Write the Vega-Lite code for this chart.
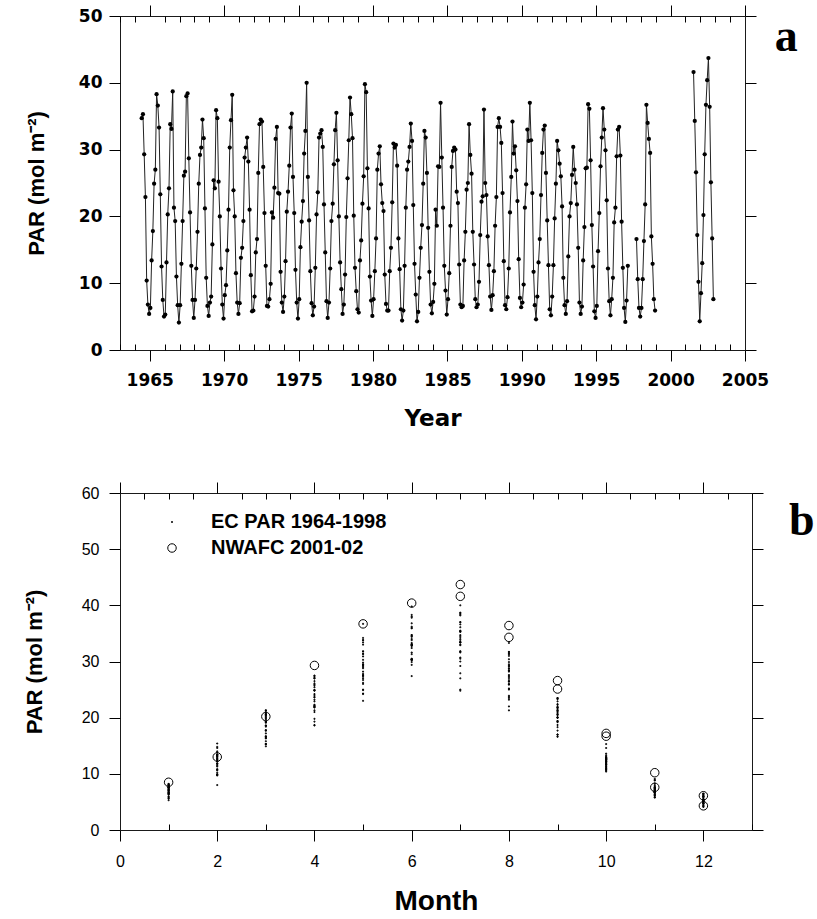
{
  "$schema": "https://vega.github.io/schema/vega-lite/v6.json",
  "background": "white",
  "padding": {"left": 22, "top": 4, "right": 0, "bottom": 0},
  "spacing": 50,
  "resolve": {"legend": {"shape": "independent", "size": "independent"}},
  "config": {
    "view": {"stroke": "#1a1a1a", "strokeWidth": 1},
    "axis": {"domain": false, "grid": false, "tickColor": "black", "tickWidth": 1, "labelColor": "black", "titleColor": "black", "labelOverlap": false, "labelFlush": false}
  },
  "datasets": {
    "par": [
      {"t":1964.458,"m":6,"v":34.7,"s":"EC","g":1},{"t":1964.542,"m":7,"v":35.3,"s":"EC","g":1},{"t":1964.625,"m":8,"v":29.3,"s":"EC","g":1},{"t":1964.708,"m":9,"v":22.9,"s":"EC","g":1},{"t":1964.792,"m":10,"v":10.4,"s":"EC","g":1},{"t":1964.875,"m":11,"v":6.8,"s":"EC","g":1},{"t":1964.958,"m":12,"v":5.4,"s":"EC","g":1},
      {"t":1965.042,"m":1,"v":6.3,"s":"EC","g":1},{"t":1965.125,"m":2,"v":13.4,"s":"EC","g":1},{"t":1965.208,"m":3,"v":17.8,"s":"EC","g":1},{"t":1965.292,"m":4,"v":24.9,"s":"EC","g":1},{"t":1965.375,"m":5,"v":27.0,"s":"EC","g":1},{"t":1965.458,"m":6,"v":38.3,"s":"EC","g":1},{"t":1965.542,"m":7,"v":36.6,"s":"EC","g":1},{"t":1965.625,"m":8,"v":33.3,"s":"EC","g":1},{"t":1965.708,"m":9,"v":23.3,"s":"EC","g":1},{"t":1965.792,"m":10,"v":12.5,"s":"EC","g":1},{"t":1965.875,"m":11,"v":7.5,"s":"EC","g":1},{"t":1965.958,"m":12,"v":5.0,"s":"EC","g":1},
      {"t":1966.042,"m":1,"v":5.3,"s":"EC","g":1},{"t":1966.125,"m":2,"v":13.1,"s":"EC","g":1},{"t":1966.208,"m":3,"v":20.3,"s":"EC","g":1},{"t":1966.292,"m":4,"v":24.2,"s":"EC","g":1},{"t":1966.375,"m":5,"v":33.8,"s":"EC","g":1},{"t":1966.458,"m":6,"v":33.1,"s":"EC","g":1},{"t":1966.542,"m":7,"v":38.7,"s":"EC","g":1},{"t":1966.625,"m":8,"v":21.3,"s":"EC","g":1},{"t":1966.708,"m":9,"v":19.3,"s":"EC","g":1},{"t":1966.792,"m":10,"v":11.0,"s":"EC","g":1},{"t":1966.875,"m":11,"v":6.7,"s":"EC","g":1},{"t":1966.958,"m":12,"v":4.1,"s":"EC","g":1},
      {"t":1967.042,"m":1,"v":6.7,"s":"EC","g":1},{"t":1967.125,"m":2,"v":12.9,"s":"EC","g":1},{"t":1967.208,"m":3,"v":19.3,"s":"EC","g":1},{"t":1967.292,"m":4,"v":26.1,"s":"EC","g":1},{"t":1967.375,"m":5,"v":26.7,"s":"EC","g":1},{"t":1967.458,"m":6,"v":38.0,"s":"EC","g":1},{"t":1967.542,"m":7,"v":38.4,"s":"EC","g":1},{"t":1967.625,"m":8,"v":28.7,"s":"EC","g":1},{"t":1967.708,"m":9,"v":20.6,"s":"EC","g":1},{"t":1967.792,"m":10,"v":12.6,"s":"EC","g":1},{"t":1967.875,"m":11,"v":7.5,"s":"EC","g":1},{"t":1967.958,"m":12,"v":4.8,"s":"EC","g":1},
      {"t":1968.042,"m":1,"v":7.5,"s":"EC","g":1},{"t":1968.125,"m":2,"v":12.2,"s":"EC","g":1},{"t":1968.208,"m":3,"v":17.7,"s":"EC","g":1},{"t":1968.292,"m":4,"v":24.9,"s":"EC","g":1},{"t":1968.375,"m":5,"v":29.2,"s":"EC","g":1},{"t":1968.458,"m":6,"v":30.3,"s":"EC","g":1},{"t":1968.542,"m":7,"v":34.5,"s":"EC","g":1},{"t":1968.625,"m":8,"v":31.7,"s":"EC","g":1},{"t":1968.708,"m":9,"v":21.2,"s":"EC","g":1},{"t":1968.792,"m":10,"v":10.8,"s":"EC","g":1},{"t":1968.875,"m":11,"v":6.6,"s":"EC","g":1},{"t":1968.958,"m":12,"v":5.1,"s":"EC","g":1},
      {"t":1969.042,"m":1,"v":7.1,"s":"EC","g":1},{"t":1969.125,"m":2,"v":8.0,"s":"EC","g":1},{"t":1969.208,"m":3,"v":15.8,"s":"EC","g":1},{"t":1969.292,"m":4,"v":25.4,"s":"EC","g":1},{"t":1969.375,"m":5,"v":24.2,"s":"EC","g":1},{"t":1969.458,"m":6,"v":35.9,"s":"EC","g":1},{"t":1969.542,"m":7,"v":34.7,"s":"EC","g":1},{"t":1969.625,"m":8,"v":25.2,"s":"EC","g":1},{"t":1969.708,"m":9,"v":20.0,"s":"EC","g":1},{"t":1969.792,"m":10,"v":12.2,"s":"EC","g":1},{"t":1969.875,"m":11,"v":6.8,"s":"EC","g":1},{"t":1969.958,"m":12,"v":4.7,"s":"EC","g":1},
      {"t":1970.042,"m":1,"v":8.2,"s":"EC","g":1},{"t":1970.125,"m":2,"v":9.7,"s":"EC","g":1},{"t":1970.208,"m":3,"v":14.9,"s":"EC","g":1},{"t":1970.292,"m":4,"v":21.0,"s":"EC","g":1},{"t":1970.375,"m":5,"v":30.3,"s":"EC","g":1},{"t":1970.458,"m":6,"v":34.4,"s":"EC","g":1},{"t":1970.542,"m":7,"v":38.2,"s":"EC","g":1},{"t":1970.625,"m":8,"v":23.9,"s":"EC","g":1},{"t":1970.708,"m":9,"v":20.0,"s":"EC","g":1},{"t":1970.792,"m":10,"v":11.5,"s":"EC","g":1},{"t":1970.875,"m":11,"v":7.1,"s":"EC","g":1},{"t":1970.958,"m":12,"v":5.4,"s":"EC","g":1},
      {"t":1971.042,"m":1,"v":7.0,"s":"EC","g":1},{"t":1971.125,"m":2,"v":13.8,"s":"EC","g":1},{"t":1971.208,"m":3,"v":15.3,"s":"EC","g":1},{"t":1971.292,"m":4,"v":19.3,"s":"EC","g":1},{"t":1971.375,"m":5,"v":28.8,"s":"EC","g":1},{"t":1971.458,"m":6,"v":30.3,"s":"EC","g":1},{"t":1971.542,"m":7,"v":31.8,"s":"EC","g":1},{"t":1971.625,"m":8,"v":28.2,"s":"EC","g":1},{"t":1971.708,"m":9,"v":21.0,"s":"EC","g":1},{"t":1971.792,"m":10,"v":11.2,"s":"EC","g":1},{"t":1971.875,"m":11,"v":5.8,"s":"EC","g":1},{"t":1971.958,"m":12,"v":5.9,"s":"EC","g":1},
      {"t":1972.042,"m":1,"v":8.0,"s":"EC","g":1},{"t":1972.125,"m":2,"v":14.6,"s":"EC","g":1},{"t":1972.208,"m":3,"v":16.6,"s":"EC","g":1},{"t":1972.292,"m":4,"v":26.5,"s":"EC","g":1},{"t":1972.375,"m":5,"v":33.8,"s":"EC","g":1},{"t":1972.458,"m":6,"v":34.5,"s":"EC","g":1},{"t":1972.542,"m":7,"v":34.2,"s":"EC","g":1},{"t":1972.625,"m":8,"v":27.4,"s":"EC","g":1},{"t":1972.708,"m":9,"v":20.5,"s":"EC","g":1},{"t":1972.792,"m":10,"v":12.6,"s":"EC","g":1},{"t":1972.875,"m":11,"v":6.6,"s":"EC","g":1},{"t":1972.958,"m":12,"v":6.5,"s":"EC","g":1},
      {"t":1973.042,"m":1,"v":7.6,"s":"EC","g":1},{"t":1973.125,"m":2,"v":9.9,"s":"EC","g":1},{"t":1973.208,"m":3,"v":20.6,"s":"EC","g":1},{"t":1973.292,"m":4,"v":19.8,"s":"EC","g":1},{"t":1973.375,"m":5,"v":24.3,"s":"EC","g":1},{"t":1973.458,"m":6,"v":31.6,"s":"EC","g":1},{"t":1973.542,"m":7,"v":33.4,"s":"EC","g":1},{"t":1973.625,"m":8,"v":23.5,"s":"EC","g":1},{"t":1973.708,"m":9,"v":23.4,"s":"EC","g":1},{"t":1973.792,"m":10,"v":11.7,"s":"EC","g":1},{"t":1973.875,"m":11,"v":7.1,"s":"EC","g":1},{"t":1973.958,"m":12,"v":5.7,"s":"EC","g":1},
      {"t":1974.042,"m":1,"v":8.0,"s":"EC","g":1},{"t":1974.125,"m":2,"v":13.3,"s":"EC","g":1},{"t":1974.208,"m":3,"v":20.7,"s":"EC","g":1},{"t":1974.292,"m":4,"v":23.7,"s":"EC","g":1},{"t":1974.375,"m":5,"v":27.6,"s":"EC","g":1},{"t":1974.458,"m":6,"v":33.3,"s":"EC","g":1},{"t":1974.542,"m":7,"v":35.4,"s":"EC","g":1},{"t":1974.625,"m":8,"v":25.9,"s":"EC","g":1},{"t":1974.708,"m":9,"v":20.5,"s":"EC","g":1},{"t":1974.792,"m":10,"v":12.0,"s":"EC","g":1},{"t":1974.875,"m":11,"v":7.1,"s":"EC","g":1},{"t":1974.958,"m":12,"v":4.7,"s":"EC","g":1},
      {"t":1975.042,"m":1,"v":7.6,"s":"EC","g":1},{"t":1975.125,"m":2,"v":15.4,"s":"EC","g":1},{"t":1975.208,"m":3,"v":19.2,"s":"EC","g":1},{"t":1975.292,"m":4,"v":22.3,"s":"EC","g":1},{"t":1975.375,"m":5,"v":29.4,"s":"EC","g":1},{"t":1975.458,"m":6,"v":32.8,"s":"EC","g":1},{"t":1975.542,"m":7,"v":40.0,"s":"EC","g":1},{"t":1975.625,"m":8,"v":25.9,"s":"EC","g":1},{"t":1975.708,"m":9,"v":19.4,"s":"EC","g":1},{"t":1975.792,"m":10,"v":11.8,"s":"EC","g":1},{"t":1975.875,"m":11,"v":7.0,"s":"EC","g":1},{"t":1975.958,"m":12,"v":5.2,"s":"EC","g":1},
      {"t":1976.042,"m":1,"v":6.5,"s":"EC","g":1},{"t":1976.125,"m":2,"v":12.3,"s":"EC","g":1},{"t":1976.208,"m":3,"v":20.3,"s":"EC","g":1},{"t":1976.292,"m":4,"v":23.6,"s":"EC","g":1},{"t":1976.375,"m":5,"v":31.8,"s":"EC","g":1},{"t":1976.458,"m":6,"v":32.4,"s":"EC","g":1},{"t":1976.542,"m":7,"v":32.9,"s":"EC","g":1},{"t":1976.625,"m":8,"v":30.4,"s":"EC","g":1},{"t":1976.708,"m":9,"v":21.8,"s":"EC","g":1},{"t":1976.792,"m":10,"v":14.6,"s":"EC","g":1},{"t":1976.875,"m":11,"v":7.3,"s":"EC","g":1},{"t":1976.958,"m":12,"v":4.8,"s":"EC","g":1},
      {"t":1977.042,"m":1,"v":7.1,"s":"EC","g":1},{"t":1977.125,"m":2,"v":12.2,"s":"EC","g":1},{"t":1977.208,"m":3,"v":19.3,"s":"EC","g":1},{"t":1977.292,"m":4,"v":21.9,"s":"EC","g":1},{"t":1977.375,"m":5,"v":27.8,"s":"EC","g":1},{"t":1977.458,"m":6,"v":32.9,"s":"EC","g":1},{"t":1977.542,"m":7,"v":35.5,"s":"EC","g":1},{"t":1977.625,"m":8,"v":28.4,"s":"EC","g":1},{"t":1977.708,"m":9,"v":20.0,"s":"EC","g":1},{"t":1977.792,"m":10,"v":13.1,"s":"EC","g":1},{"t":1977.875,"m":11,"v":9.1,"s":"EC","g":1},{"t":1977.958,"m":12,"v":5.4,"s":"EC","g":1},
      {"t":1978.042,"m":1,"v":6.8,"s":"EC","g":1},{"t":1978.125,"m":2,"v":11.3,"s":"EC","g":1},{"t":1978.208,"m":3,"v":19.9,"s":"EC","g":1},{"t":1978.292,"m":4,"v":25.7,"s":"EC","g":1},{"t":1978.375,"m":5,"v":31.4,"s":"EC","g":1},{"t":1978.458,"m":6,"v":37.8,"s":"EC","g":1},{"t":1978.542,"m":7,"v":35.3,"s":"EC","g":1},{"t":1978.625,"m":8,"v":31.7,"s":"EC","g":1},{"t":1978.708,"m":9,"v":20.1,"s":"EC","g":1},{"t":1978.792,"m":10,"v":12.3,"s":"EC","g":1},{"t":1978.875,"m":11,"v":8.8,"s":"EC","g":1},{"t":1978.958,"m":12,"v":6.1,"s":"EC","g":1},
      {"t":1979.042,"m":1,"v":5.6,"s":"EC","g":1},{"t":1979.125,"m":2,"v":13.4,"s":"EC","g":1},{"t":1979.208,"m":3,"v":16.4,"s":"EC","g":1},{"t":1979.292,"m":4,"v":21.9,"s":"EC","g":1},{"t":1979.375,"m":5,"v":26.0,"s":"EC","g":1},{"t":1979.458,"m":6,"v":39.8,"s":"EC","g":1},{"t":1979.542,"m":7,"v":38.6,"s":"EC","g":1},{"t":1979.625,"m":8,"v":27.2,"s":"EC","g":1},{"t":1979.708,"m":9,"v":21.2,"s":"EC","g":1},{"t":1979.792,"m":10,"v":11.0,"s":"EC","g":1},{"t":1979.875,"m":11,"v":7.4,"s":"EC","g":1},{"t":1979.958,"m":12,"v":5.1,"s":"EC","g":1},
      {"t":1980.042,"m":1,"v":7.6,"s":"EC","g":1},{"t":1980.125,"m":2,"v":11.8,"s":"EC","g":1},{"t":1980.208,"m":3,"v":16.7,"s":"EC","g":1},{"t":1980.292,"m":4,"v":27.0,"s":"EC","g":1},{"t":1980.375,"m":5,"v":29.4,"s":"EC","g":1},{"t":1980.458,"m":6,"v":30.5,"s":"EC","g":1},{"t":1980.542,"m":7,"v":24.8,"s":"EC","g":1},{"t":1980.625,"m":8,"v":22.0,"s":"EC","g":1},{"t":1980.708,"m":9,"v":20.8,"s":"EC","g":1},{"t":1980.792,"m":10,"v":11.3,"s":"EC","g":1},{"t":1980.875,"m":11,"v":6.9,"s":"EC","g":1},{"t":1980.958,"m":12,"v":5.9,"s":"EC","g":1},
      {"t":1981.042,"m":1,"v":5.9,"s":"EC","g":1},{"t":1981.125,"m":2,"v":11.8,"s":"EC","g":1},{"t":1981.208,"m":3,"v":15.3,"s":"EC","g":1},{"t":1981.292,"m":4,"v":22.1,"s":"EC","g":1},{"t":1981.375,"m":5,"v":30.9,"s":"EC","g":1},{"t":1981.458,"m":6,"v":30.3,"s":"EC","g":1},{"t":1981.542,"m":7,"v":30.7,"s":"EC","g":1},{"t":1981.625,"m":8,"v":27.6,"s":"EC","g":1},{"t":1981.708,"m":9,"v":16.7,"s":"EC","g":1},{"t":1981.792,"m":10,"v":12.1,"s":"EC","g":1},{"t":1981.875,"m":11,"v":6.1,"s":"EC","g":1},{"t":1981.958,"m":12,"v":4.4,"s":"EC","g":1},
      {"t":1982.042,"m":1,"v":5.9,"s":"EC","g":1},{"t":1982.125,"m":2,"v":12.6,"s":"EC","g":1},{"t":1982.208,"m":3,"v":21.3,"s":"EC","g":1},{"t":1982.292,"m":4,"v":27.0,"s":"EC","g":1},{"t":1982.375,"m":5,"v":28.2,"s":"EC","g":1},{"t":1982.458,"m":6,"v":30.4,"s":"EC","g":1},{"t":1982.542,"m":7,"v":33.9,"s":"EC","g":1},{"t":1982.625,"m":8,"v":31.3,"s":"EC","g":1},{"t":1982.708,"m":9,"v":21.7,"s":"EC","g":1},{"t":1982.792,"m":10,"v":12.9,"s":"EC","g":1},{"t":1982.875,"m":11,"v":8.3,"s":"EC","g":1},{"t":1982.958,"m":12,"v":4.3,"s":"EC","g":1},
      {"t":1983.042,"m":1,"v":5.7,"s":"EC","g":1},{"t":1983.125,"m":2,"v":10.8,"s":"EC","g":1},{"t":1983.208,"m":3,"v":15.3,"s":"EC","g":1},{"t":1983.292,"m":4,"v":18.7,"s":"EC","g":1},{"t":1983.375,"m":5,"v":24.9,"s":"EC","g":1},{"t":1983.458,"m":6,"v":32.8,"s":"EC","g":1},{"t":1983.542,"m":7,"v":31.8,"s":"EC","g":1},{"t":1983.625,"m":8,"v":26.5,"s":"EC","g":1},{"t":1983.708,"m":9,"v":18.3,"s":"EC","g":1},{"t":1983.792,"m":10,"v":11.7,"s":"EC","g":1},{"t":1983.875,"m":11,"v":6.8,"s":"EC","g":1},{"t":1983.958,"m":12,"v":5.5,"s":"EC","g":1},
      {"t":1984.042,"m":1,"v":7.2,"s":"EC","g":1},{"t":1984.125,"m":2,"v":9.9,"s":"EC","g":1},{"t":1984.208,"m":3,"v":21.0,"s":"EC","g":1},{"t":1984.292,"m":4,"v":18.6,"s":"EC","g":1},{"t":1984.375,"m":5,"v":27.5,"s":"EC","g":1},{"t":1984.458,"m":6,"v":27.4,"s":"EC","g":1},{"t":1984.542,"m":7,"v":37.0,"s":"EC","g":1},{"t":1984.625,"m":8,"v":28.8,"s":"EC","g":1},{"t":1984.708,"m":9,"v":21.3,"s":"EC","g":1},{"t":1984.792,"m":10,"v":12.6,"s":"EC","g":1},{"t":1984.875,"m":11,"v":8.9,"s":"EC","g":1},{"t":1984.958,"m":12,"v":5.3,"s":"EC","g":1},
      {"t":1985.042,"m":1,"v":7.6,"s":"EC","g":1},{"t":1985.125,"m":2,"v":11.5,"s":"EC","g":1},{"t":1985.208,"m":3,"v":18.6,"s":"EC","g":1},{"t":1985.292,"m":4,"v":27.4,"s":"EC","g":1},{"t":1985.375,"m":5,"v":29.8,"s":"EC","g":1},{"t":1985.458,"m":6,"v":30.3,"s":"EC","g":1},{"t":1985.542,"m":7,"v":30.0,"s":"EC","g":1},{"t":1985.625,"m":8,"v":23.7,"s":"EC","g":1},{"t":1985.708,"m":9,"v":22.0,"s":"EC","g":1},{"t":1985.792,"m":10,"v":12.8,"s":"EC","g":1},{"t":1985.875,"m":11,"v":6.8,"s":"EC","g":1},{"t":1985.958,"m":12,"v":6.4,"s":"EC","g":1},
      {"t":1986.042,"m":1,"v":6.6,"s":"EC","g":1},{"t":1986.125,"m":2,"v":13.4,"s":"EC","g":1},{"t":1986.208,"m":3,"v":17.7,"s":"EC","g":1},{"t":1986.292,"m":4,"v":24.0,"s":"EC","g":1},{"t":1986.375,"m":5,"v":25.0,"s":"EC","g":1},{"t":1986.458,"m":6,"v":33.8,"s":"EC","g":1},{"t":1986.542,"m":7,"v":29.2,"s":"EC","g":1},{"t":1986.625,"m":8,"v":26.4,"s":"EC","g":1},{"t":1986.708,"m":9,"v":17.7,"s":"EC","g":1},{"t":1986.792,"m":10,"v":12.8,"s":"EC","g":1},{"t":1986.875,"m":11,"v":7.6,"s":"EC","g":1},{"t":1986.958,"m":12,"v":6.4,"s":"EC","g":1},
      {"t":1987.042,"m":1,"v":6.8,"s":"EC","g":1},{"t":1987.125,"m":2,"v":10.2,"s":"EC","g":1},{"t":1987.208,"m":3,"v":17.2,"s":"EC","g":1},{"t":1987.292,"m":4,"v":22.2,"s":"EC","g":1},{"t":1987.375,"m":5,"v":23.0,"s":"EC","g":1},{"t":1987.458,"m":6,"v":36.0,"s":"EC","g":1},{"t":1987.542,"m":7,"v":25.0,"s":"EC","g":1},{"t":1987.625,"m":8,"v":23.2,"s":"EC","g":1},{"t":1987.708,"m":9,"v":17.0,"s":"EC","g":1},{"t":1987.792,"m":10,"v":12.7,"s":"EC","g":1},{"t":1987.875,"m":11,"v":8.0,"s":"EC","g":1},{"t":1987.958,"m":12,"v":6.0,"s":"EC","g":1},
      {"t":1988.042,"m":1,"v":8.2,"s":"EC","g":1},{"t":1988.125,"m":2,"v":11.8,"s":"EC","g":1},{"t":1988.208,"m":3,"v":18.6,"s":"EC","g":1},{"t":1988.292,"m":4,"v":22.9,"s":"EC","g":1},{"t":1988.375,"m":5,"v":33.4,"s":"EC","g":1},{"t":1988.458,"m":6,"v":34.7,"s":"EC","g":1},{"t":1988.542,"m":7,"v":33.4,"s":"EC","g":1},{"t":1988.625,"m":8,"v":31.0,"s":"EC","g":1},{"t":1988.708,"m":9,"v":23.5,"s":"EC","g":1},{"t":1988.792,"m":10,"v":13.3,"s":"EC","g":1},{"t":1988.875,"m":11,"v":6.7,"s":"EC","g":1},{"t":1988.958,"m":12,"v":6.1,"s":"EC","g":1},
      {"t":1989.042,"m":1,"v":7.9,"s":"EC","g":1},{"t":1989.125,"m":2,"v":12.2,"s":"EC","g":1},{"t":1989.208,"m":3,"v":20.6,"s":"EC","g":1},{"t":1989.292,"m":4,"v":25.9,"s":"EC","g":1},{"t":1989.375,"m":5,"v":34.2,"s":"EC","g":1},{"t":1989.458,"m":6,"v":29.4,"s":"EC","g":1},{"t":1989.542,"m":7,"v":30.5,"s":"EC","g":1},{"t":1989.625,"m":8,"v":26.9,"s":"EC","g":1},{"t":1989.708,"m":9,"v":22.3,"s":"EC","g":1},{"t":1989.792,"m":10,"v":13.6,"s":"EC","g":1},{"t":1989.875,"m":11,"v":7.8,"s":"EC","g":1},{"t":1989.958,"m":12,"v":6.4,"s":"EC","g":1},
      {"t":1990.042,"m":1,"v":7.1,"s":"EC","g":1},{"t":1990.125,"m":2,"v":9.8,"s":"EC","g":1},{"t":1990.208,"m":3,"v":21.3,"s":"EC","g":1},{"t":1990.292,"m":4,"v":24.8,"s":"EC","g":1},{"t":1990.375,"m":5,"v":33.0,"s":"EC","g":1},{"t":1990.458,"m":6,"v":31.3,"s":"EC","g":1},{"t":1990.542,"m":7,"v":37.0,"s":"EC","g":1},{"t":1990.625,"m":8,"v":31.4,"s":"EC","g":1},{"t":1990.708,"m":9,"v":23.5,"s":"EC","g":1},{"t":1990.792,"m":10,"v":11.7,"s":"EC","g":1},{"t":1990.875,"m":11,"v":6.7,"s":"EC","g":1},{"t":1990.958,"m":12,"v":4.6,"s":"EC","g":1},
      {"t":1991.042,"m":1,"v":8.0,"s":"EC","g":1},{"t":1991.125,"m":2,"v":13.1,"s":"EC","g":1},{"t":1991.208,"m":3,"v":16.6,"s":"EC","g":1},{"t":1991.292,"m":4,"v":23.2,"s":"EC","g":1},{"t":1991.375,"m":5,"v":29.5,"s":"EC","g":1},{"t":1991.458,"m":6,"v":33.0,"s":"EC","g":1},{"t":1991.542,"m":7,"v":33.6,"s":"EC","g":1},{"t":1991.625,"m":8,"v":26.5,"s":"EC","g":1},{"t":1991.708,"m":9,"v":19.4,"s":"EC","g":1},{"t":1991.792,"m":10,"v":12.7,"s":"EC","g":1},{"t":1991.875,"m":11,"v":6.1,"s":"EC","g":1},{"t":1991.958,"m":12,"v":5.2,"s":"EC","g":1},
      {"t":1992.042,"m":1,"v":8.0,"s":"EC","g":1},{"t":1992.125,"m":2,"v":12.7,"s":"EC","g":1},{"t":1992.208,"m":3,"v":19.7,"s":"EC","g":1},{"t":1992.292,"m":4,"v":24.9,"s":"EC","g":1},{"t":1992.375,"m":5,"v":31.3,"s":"EC","g":1},{"t":1992.458,"m":6,"v":29.9,"s":"EC","g":1},{"t":1992.542,"m":7,"v":27.9,"s":"EC","g":1},{"t":1992.625,"m":8,"v":26.0,"s":"EC","g":1},{"t":1992.708,"m":9,"v":21.5,"s":"EC","g":1},{"t":1992.792,"m":10,"v":10.8,"s":"EC","g":1},{"t":1992.875,"m":11,"v":6.7,"s":"EC","g":1},{"t":1992.958,"m":12,"v":5.4,"s":"EC","g":1},
      {"t":1993.042,"m":1,"v":7.3,"s":"EC","g":1},{"t":1993.125,"m":2,"v":14.0,"s":"EC","g":1},{"t":1993.208,"m":3,"v":20.0,"s":"EC","g":1},{"t":1993.292,"m":4,"v":22.0,"s":"EC","g":1},{"t":1993.375,"m":5,"v":26.2,"s":"EC","g":1},{"t":1993.458,"m":6,"v":30.4,"s":"EC","g":1},{"t":1993.542,"m":7,"v":27.0,"s":"EC","g":1},{"t":1993.625,"m":8,"v":25.0,"s":"EC","g":1},{"t":1993.708,"m":9,"v":21.8,"s":"EC","g":1},{"t":1993.792,"m":10,"v":15.3,"s":"EC","g":1},{"t":1993.875,"m":11,"v":7.1,"s":"EC","g":1},{"t":1993.958,"m":12,"v":5.4,"s":"EC","g":1},
      {"t":1994.042,"m":1,"v":6.5,"s":"EC","g":1},{"t":1994.125,"m":2,"v":13.4,"s":"EC","g":1},{"t":1994.208,"m":3,"v":18.4,"s":"EC","g":1},{"t":1994.292,"m":4,"v":27.2,"s":"EC","g":1},{"t":1994.375,"m":5,"v":27.3,"s":"EC","g":1},{"t":1994.458,"m":6,"v":36.8,"s":"EC","g":1},{"t":1994.542,"m":7,"v":36.1,"s":"EC","g":1},{"t":1994.625,"m":8,"v":28.4,"s":"EC","g":1},{"t":1994.708,"m":9,"v":18.7,"s":"EC","g":1},{"t":1994.792,"m":10,"v":12.5,"s":"EC","g":1},{"t":1994.875,"m":11,"v":5.8,"s":"EC","g":1},{"t":1994.958,"m":12,"v":4.8,"s":"EC","g":1},
      {"t":1995.042,"m":1,"v":6.6,"s":"EC","g":1},{"t":1995.125,"m":2,"v":14.8,"s":"EC","g":1},{"t":1995.208,"m":3,"v":20.5,"s":"EC","g":1},{"t":1995.292,"m":4,"v":27.5,"s":"EC","g":1},{"t":1995.375,"m":5,"v":31.8,"s":"EC","g":1},{"t":1995.458,"m":6,"v":36.2,"s":"EC","g":1},{"t":1995.542,"m":7,"v":33.0,"s":"EC","g":1},{"t":1995.625,"m":8,"v":29.9,"s":"EC","g":1},{"t":1995.708,"m":9,"v":22.4,"s":"EC","g":1},{"t":1995.792,"m":10,"v":12.2,"s":"EC","g":1},{"t":1995.875,"m":11,"v":7.3,"s":"EC","g":1},{"t":1995.958,"m":12,"v":5.2,"s":"EC","g":1},
      {"t":1996.042,"m":1,"v":7.6,"s":"EC","g":1},{"t":1996.125,"m":2,"v":10.8,"s":"EC","g":1},{"t":1996.208,"m":3,"v":19.1,"s":"EC","g":1},{"t":1996.292,"m":4,"v":21.3,"s":"EC","g":1},{"t":1996.375,"m":5,"v":29.0,"s":"EC","g":1},{"t":1996.458,"m":6,"v":33.0,"s":"EC","g":1},{"t":1996.542,"m":7,"v":33.4,"s":"EC","g":1},{"t":1996.625,"m":8,"v":29.1,"s":"EC","g":1},{"t":1996.708,"m":9,"v":19.2,"s":"EC","g":1},{"t":1996.792,"m":10,"v":12.3,"s":"EC","g":1},{"t":1996.875,"m":11,"v":6.3,"s":"EC","g":1},{"t":1996.958,"m":12,"v":4.2,"s":"EC","g":1},
      {"t":1997.042,"m":1,"v":7.4,"s":"EC","g":1},{"t":1997.125,"m":2,"v":12.6,"s":"EC","g":1},
      {"t":1997.708,"m":9,"v":16.6,"s":"EC","g":2},{"t":1997.792,"m":10,"v":10.6,"s":"EC","g":2},{"t":1997.875,"m":11,"v":6.3,"s":"EC","g":2},{"t":1997.958,"m":12,"v":5.0,"s":"EC","g":2},
      {"t":1998.042,"m":1,"v":6.3,"s":"EC","g":2},{"t":1998.125,"m":2,"v":10.6,"s":"EC","g":2},{"t":1998.208,"m":3,"v":16.3,"s":"EC","g":2},{"t":1998.292,"m":4,"v":21.8,"s":"EC","g":2},{"t":1998.375,"m":5,"v":36.7,"s":"EC","g":2},{"t":1998.458,"m":6,"v":34.0,"s":"EC","g":2},{"t":1998.542,"m":7,"v":31.6,"s":"EC","g":2},{"t":1998.625,"m":8,"v":29.5,"s":"EC","g":2},{"t":1998.708,"m":9,"v":17.0,"s":"EC","g":2},{"t":1998.792,"m":10,"v":12.9,"s":"EC","g":2},{"t":1998.875,"m":11,"v":7.6,"s":"EC","g":2},{"t":1998.958,"m":12,"v":5.9,"s":"EC","g":2},
      {"t":2001.542,"m":7,"v":41.6,"s":"NWAFC","g":3},{"t":2001.625,"m":8,"v":34.3,"s":"NWAFC","g":3},{"t":2001.708,"m":9,"v":26.6,"s":"NWAFC","g":3},{"t":2001.792,"m":10,"v":17.2,"s":"NWAFC","g":3},{"t":2001.875,"m":11,"v":10.2,"s":"NWAFC","g":3},{"t":2001.958,"m":12,"v":4.3,"s":"NWAFC","g":3},
      {"t":2002.042,"m":1,"v":8.5,"s":"NWAFC","g":3},{"t":2002.125,"m":2,"v":13.0,"s":"NWAFC","g":3},{"t":2002.208,"m":3,"v":20.2,"s":"NWAFC","g":3},{"t":2002.292,"m":4,"v":29.3,"s":"NWAFC","g":3},{"t":2002.375,"m":5,"v":36.7,"s":"NWAFC","g":3},{"t":2002.458,"m":6,"v":40.4,"s":"NWAFC","g":3},{"t":2002.542,"m":7,"v":43.7,"s":"NWAFC","g":3},{"t":2002.625,"m":8,"v":36.4,"s":"NWAFC","g":3},{"t":2002.708,"m":9,"v":25.1,"s":"NWAFC","g":3},{"t":2002.792,"m":10,"v":16.7,"s":"NWAFC","g":3},{"t":2002.875,"m":11,"v":7.6,"s":"NWAFC","g":3},{"t":2002.958,"m":12,"v":6.1,"s":"NWAFC","g":3,"a":0}
    ]
  },
  "vconcat": [
    {
      "width": 625,
      "height": 334,
      "data": {"name": "par"},
      "transform": [{"filter": "datum.a !== 0"}],
      "title": {"text": "a", "orient": "right", "anchor": "start", "frame": "group", "angle": 0, "align": "left", "baseline": "alphabetic", "font": "Liberation Serif", "fontSize": 46, "fontWeight": "bold", "color": "black", "offset": -17, "dy": 35},
      "layer": [
        {
          "mark": {"type": "line", "color": "#222222", "strokeWidth": 1},
          "encoding": {
            "x": {"field": "t", "type": "quantitative", "scale": {"domain": [1963, 2005], "nice": false, "zero": false},
              "axis": {"orient": "bottom", "values": [1963,1964,1965,1966,1967,1968,1969,1970,1971,1972,1973,1974,1975,1976,1977,1978,1979,1980,1981,1982,1983,1984,1985,1986,1987,1988,1989,1990,1991,1992,1993,1994,1995,1996,1997,1998,1999,2000,2001,2002,2003,2004,2005],
                "format": "d", "labelExpr": "datum.value % 5 === 0 ? datum.label : ''",
                "tickSize": {"condition": {"test": "datum.value % 5 === 0", "value": 11}, "value": -6},
                "labelFont": "DejaVu Sans", "labelFontWeight": "bold", "labelFontSize": 17, "labelPadding": 11,
                "title": "Year", "titleFont": "DejaVu Sans", "titleFontSize": 23, "titleFontWeight": "bold", "titlePadding": 19}},
            "y": {"field": "v", "type": "quantitative", "scale": {"domain": [0, 50], "nice": false},
              "axis": {"orient": "left", "values": [0,10,20,30,40,50], "tickSize": 11,
                "labelFont": "DejaVu Sans", "labelFontWeight": "bold", "labelFontSize": 17, "labelPadding": 7,
                "title": "PAR (mol m⁻²)", "titleFont": "Liberation Sans", "titleFontSize": 22, "titleFontWeight": "bold", "titlePadding": 30}},
            "detail": {"field": "g", "type": "nominal"}
          }
        },
        {
          "mark": {"type": "point", "filled": true, "color": "black", "size": 18, "opacity": 1},
          "encoding": {
            "x": {"field": "t", "type": "quantitative", "scale": {"domain": [1963, 2005], "nice": false, "zero": false},
              "axis": {"orient": "top", "values": [1963,1964,1965,1966,1967,1968,1969,1970,1971,1972,1973,1974,1975,1976,1977,1978,1979,1980,1981,1982,1983,1984,1985,1986,1987,1988,1989,1990,1991,1992,1993,1994,1995,1996,1997,1998,1999,2000,2001,2002,2003,2004,2005],
                "labels": false, "title": null,
                "tickSize": {"condition": {"test": "datum.value % 5 === 0", "value": 11}, "value": -6}}},
            "y": {"field": "v", "type": "quantitative", "scale": {"domain": [0, 50], "nice": false},
              "axis": {"orient": "right", "values": [0,10,20,30,40,50], "tickSize": 11, "labels": false, "title": null}}
          }
        }
      ],
      "resolve": {"axis": {"x": "independent", "y": "independent"}}
    },
    {
      "width": 632,
      "height": 337,
      "data": {"name": "par"},
      "title": {"text": "b", "orient": "right", "anchor": "start", "frame": "group", "angle": 0, "align": "left", "baseline": "alphabetic", "font": "Liberation Serif", "fontSize": 46, "fontWeight": "bold", "color": "black", "offset": 0, "dy": 42},
      "layer": [
        {
          "transform": [{"filter": "datum.s === 'NWAFC'"}],
          "mark": {"type": "point", "filled": false, "color": "black", "strokeWidth": 1, "opacity": 1},
          "encoding": {
            "x": {"field": "m", "type": "quantitative", "scale": {"domain": [0, 13], "nice": false, "zero": false},
              "axis": {"orient": "bottom", "values": [0,0.5,1,1.5,2,2.5,3,3.5,4,4.5,5,5.5,6,6.5,7,7.5,8,8.5,9,9.5,10,10.5,11,11.5,12,12.5,13],
                "format": "d", "labelExpr": "datum.value % 2 === 0 && datum.value <= 12 ? datum.label : ''",
                "tickSize": {"condition": {"test": "datum.value % 2 === 0 && datum.value <= 12", "value": 11}, "value": -6},
                "labelFont": "Liberation Sans", "labelFontSize": 16, "labelPadding": 12,
                "title": "Month", "titleFont": "Liberation Sans", "titleFontSize": 28, "titleFontWeight": "bold", "titlePadding": 18}},
            "y": {"field": "v", "type": "quantitative", "scale": {"domain": [0, 60], "nice": false},
              "axis": {"orient": "left", "values": [0,10,20,30,40,50,60], "tickSize": 11,
                "labelFont": "Liberation Sans", "labelFontSize": 16, "labelPadding": 10,
                "title": "PAR (mol m⁻²)", "titleFont": "Liberation Sans", "titleFontSize": 22, "titleFontWeight": "bold", "titlePadding": 35}},
            "shape": {"field": "s", "type": "nominal", "scale": {"domain": ["EC", "NWAFC"], "range": ["square", "circle"]},
              "legend": {"orient": "none", "legendX": 42, "legendY": 19, "title": null, "padding": 0,
                "labelExpr": "datum.label === 'EC' ? 'EC PAR 1964-1998' : 'NWAFC 2001-02'",
                "labelFont": "Liberation Sans", "labelFontSize": 20, "labelFontWeight": "bold", "labelColor": "black", "labelLimit": 400,
                "labelOffset": 29, "rowPadding": 6, "symbolStrokeColor": "black", "symbolStrokeWidth": 1, "symbolFillColor": "transparent"}},
            "size": {"field": "s", "type": "nominal", "scale": {"domain": ["EC", "NWAFC"], "range": [1, 72]},
              "legend": {"orient": "none", "legendX": 42, "legendY": 19, "title": null, "padding": 0,
                "labelExpr": "datum.label === 'EC' ? 'EC PAR 1964-1998' : 'NWAFC 2001-02'",
                "labelFont": "Liberation Sans", "labelFontSize": 20, "labelFontWeight": "bold", "labelColor": "black", "labelLimit": 400,
                "labelOffset": 29, "rowPadding": 6, "symbolStrokeColor": "black", "symbolStrokeWidth": 1, "symbolFillColor": "transparent"}}
          }
        },
        {
          "transform": [{"filter": "datum.s === 'EC'"}],
          "mark": {"type": "point", "filled": false, "color": "black", "strokeWidth": 1, "opacity": 1},
          "encoding": {
            "x": {"field": "m", "type": "quantitative", "scale": {"domain": [0, 13], "nice": false, "zero": false},
              "axis": {"orient": "top", "values": [0,0.5,1,1.5,2,2.5,3,3.5,4,4.5,5,5.5,6,6.5,7,7.5,8,8.5,9,9.5,10,10.5,11,11.5,12,12.5,13],
                "labels": false, "title": null,
                "tickSize": {"condition": {"test": "datum.value % 2 === 0 && datum.value <= 12", "value": 11}, "value": -6}}},
            "y": {"field": "v", "type": "quantitative", "scale": {"domain": [0, 60], "nice": false},
              "axis": {"orient": "right", "values": [0,10,20,30,40,50,60], "tickSize": 11, "labels": false, "title": null}},
            "shape": {"field": "s", "type": "nominal", "scale": {"domain": ["EC", "NWAFC"], "range": ["square", "circle"]}},
            "size": {"field": "s", "type": "nominal", "scale": {"domain": ["EC", "NWAFC"], "range": [1, 72]}}
          }
        }
      ],
      "resolve": {"axis": {"x": "independent", "y": "independent"}}
    }
  ]
}
